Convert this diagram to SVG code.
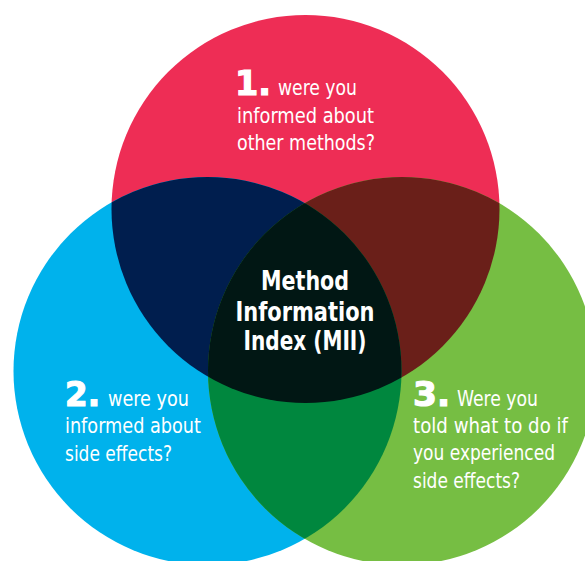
<svg xmlns="http://www.w3.org/2000/svg" width="585" height="561" viewBox="0 0 585 561">
<defs>
<clipPath id="clipRed"><circle cx="305.5" cy="209" r="194"/></clipPath>
<clipPath id="clipBlue"><circle cx="207.5" cy="371" r="194"/></clipPath>
<clipPath id="clipGreen"><circle cx="402" cy="371" r="194"/></clipPath>
<style>
.q{font-family:"Liberation Sans Narrow","DejaVu Sans Condensed","Liberation Sans",sans-serif;font-size:22px;fill:#fff}
.n{font-family:"DejaVu Sans","Liberation Sans",sans-serif;font-weight:bold;font-size:34px;fill:#fff;stroke:#fff;stroke-width:1.2}
.c{font-family:"Liberation Sans Narrow","DejaVu Sans Condensed","Liberation Sans",sans-serif;font-weight:bold;font-size:26px;fill:#fff;text-anchor:middle}
</style>
</defs>
<rect width="585" height="561" fill="#fff"/>
<g id="circle-1">
<circle cx="305.5" cy="209" r="194" fill="#EE2D55"/>
</g>
<g id="circle-2">
<circle cx="207.5" cy="371" r="194" fill="#00B2EC"/>
</g>
<g id="circle-3">
<circle cx="402" cy="371" r="194" fill="#76BE43"/>
</g>
<g id="overlaps">
<g clip-path="url(#clipRed)"><circle cx="207.5" cy="371" r="194" fill="#001E4E"/></g>
<g clip-path="url(#clipRed)"><circle cx="402" cy="371" r="194" fill="#6A1F19"/></g>
<g clip-path="url(#clipBlue)"><circle cx="402" cy="371" r="194" fill="#00873E"/></g>
</g>
<g id="center">
<g clip-path="url(#clipBlue)"><g clip-path="url(#clipRed)"><circle cx="402" cy="371" r="194" fill="#011714"/></g></g>
<text class="c" x="305" y="290" textLength="88" lengthAdjust="spacingAndGlyphs">Method</text>
<text class="c" x="305" y="321" textLength="139" lengthAdjust="spacingAndGlyphs">Information</text>
<text class="c" x="305" y="350" textLength="123" lengthAdjust="spacingAndGlyphs">Index (MII)</text>
</g>
<g id="label-1">
<text class="n" x="235" y="95" textLength="36" lengthAdjust="spacingAndGlyphs">1.</text>
<text class="q" x="278" y="95" textLength="79" lengthAdjust="spacingAndGlyphs">were you</text>
<text class="q" x="237" y="123" textLength="137" lengthAdjust="spacingAndGlyphs">informed about</text>
<text class="q" x="237" y="150" textLength="138" lengthAdjust="spacingAndGlyphs">other methods?</text>
</g>
<g id="label-2">
<text class="n" x="65" y="406" textLength="35" lengthAdjust="spacingAndGlyphs">2.</text>
<text class="q" x="108" y="406" textLength="81" lengthAdjust="spacingAndGlyphs">were you</text>
<text class="q" x="65" y="433" textLength="136" lengthAdjust="spacingAndGlyphs">informed about</text>
<text class="q" x="65" y="461" textLength="107" lengthAdjust="spacingAndGlyphs">side effects?</text>
</g>
<g id="label-3">
<text class="n" x="413" y="406" textLength="37" lengthAdjust="spacingAndGlyphs">3.</text>
<text class="q" x="457" y="406" textLength="81" lengthAdjust="spacingAndGlyphs">Were you</text>
<text class="q" x="413" y="433" textLength="155" lengthAdjust="spacingAndGlyphs">told what to do if</text>
<text class="q" x="413" y="460" textLength="142" lengthAdjust="spacingAndGlyphs">you experienced</text>
<text class="q" x="413" y="488" textLength="107" lengthAdjust="spacingAndGlyphs">side effects?</text>
</g>
<g id="connectors"/>
</svg>
